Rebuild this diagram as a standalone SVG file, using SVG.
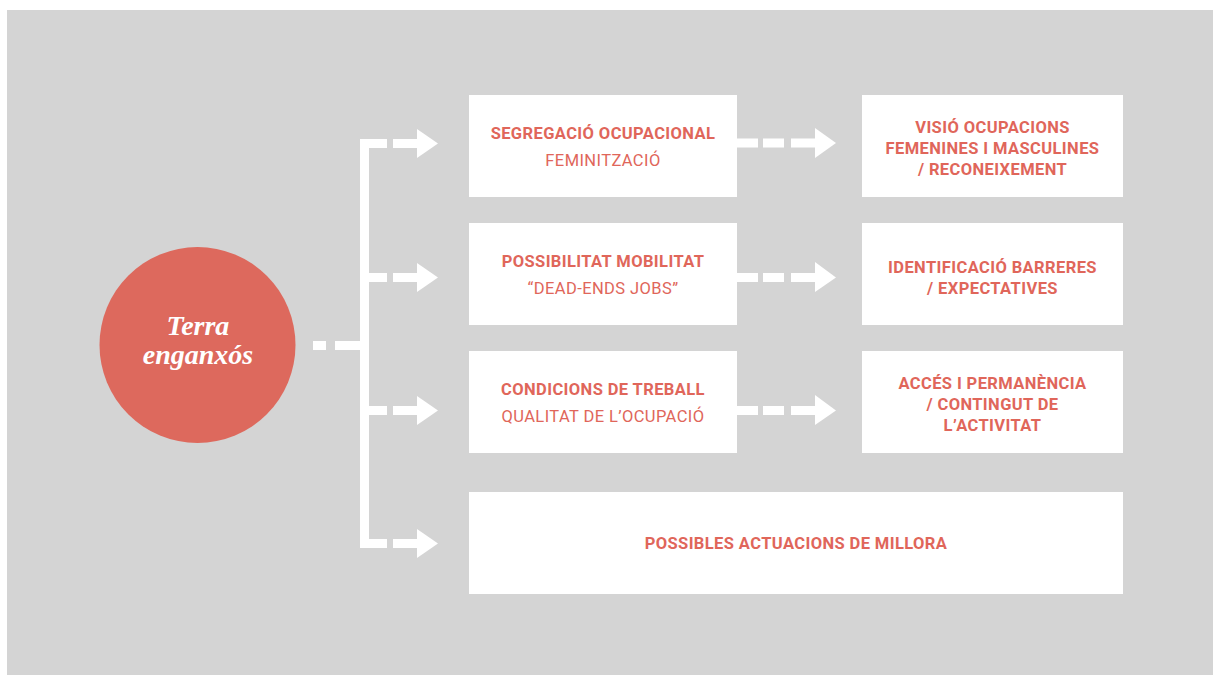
<svg xmlns="http://www.w3.org/2000/svg" width="1213" height="675" viewBox="0 0 1213 675">
<style>
.box{fill:#ffffff}
.t{font-family:Roboto,"Liberation Sans",sans-serif;font-size:16.5px;letter-spacing:0.4px;fill:#e0665a;text-anchor:middle}
.b{font-weight:700}
.r{font-weight:400}
.w{fill:#ffffff}
.title{font-family:"Liberation Serif","DejaVu Serif",serif;font-style:italic;font-weight:700;font-size:28px;fill:#ffffff;text-anchor:middle}
</style>
<rect x="0" y="0" width="1213" height="675" fill="#ffffff"/>
<rect x="7" y="10" width="1206" height="665" fill="#d4d4d4"/>
<g id="connectors" class="w">
<rect x="313" y="341" width="13" height="9"/>
<rect x="335" y="341" width="25" height="9"/>
<rect x="360" y="139" width="9" height="409"/>
<rect x="369" y="139" width="18" height="9"/>
<rect x="393" y="139" width="24" height="9"/>
<polygon points="417,129 438,143.5 417,158"/>
<rect x="369" y="273" width="18" height="9"/>
<rect x="393" y="273" width="24" height="9"/>
<polygon points="417,263 438,277.5 417,292"/>
<rect x="369" y="406" width="18" height="9"/>
<rect x="393" y="406" width="24" height="9"/>
<polygon points="417,396 438,410.5 417,425"/>
<rect x="369" y="539" width="18" height="9"/>
<rect x="393" y="539" width="24" height="9"/>
<polygon points="417,529 438,543.5 417,558"/>
<rect x="737" y="138.5" width="21" height="9"/>
<rect x="763" y="138.5" width="21" height="9"/>
<rect x="791" y="138.5" width="26" height="9"/>
<polygon points="815,128 836,143 815,158"/>
<rect x="737" y="273" width="21" height="9"/>
<rect x="763" y="273" width="21" height="9"/>
<rect x="791" y="273" width="26" height="9"/>
<polygon points="815,262 836,277.5 815,292"/>
<rect x="737" y="406" width="21" height="9"/>
<rect x="763" y="406" width="21" height="9"/>
<rect x="791" y="406" width="26" height="9"/>
<polygon points="815,395 836,410.5 815,425"/>
</g>
<g id="center">
<circle cx="197.5" cy="345" r="98" fill="#dd695d"/>
<text class="title" x="198" y="335">Terra</text>
<text class="title" x="198" y="364">enganxós</text>
</g>
<g id="n1">
<rect class="box" x="469" y="95" width="268" height="102"/>
<text class="t b" x="603" y="139">SEGREGACIÓ OCUPACIONAL</text>
<text class="t r" x="603" y="166">FEMINITZACIÓ</text>
</g>
<g id="n2">
<rect class="box" x="469" y="223" width="268" height="102"/>
<text class="t b" x="603" y="267">POSSIBILITAT MOBILITAT</text>
<text class="t r" x="603" y="294">“DEAD-ENDS JOBS”</text>
</g>
<g id="n3">
<rect class="box" x="469" y="351" width="268" height="102"/>
<text class="t b" x="603" y="395">CONDICIONS DE TREBALL</text>
<text class="t r" x="603" y="422">QUALITAT DE L’OCUPACIÓ</text>
</g>
<g id="n4">
<rect class="box" x="862" y="95" width="261" height="102"/>
<text class="t b" x="992.5" y="133">VISIÓ OCUPACIONS</text>
<text class="t b" x="992.5" y="154">FEMENINES I MASCULINES</text>
<text class="t b" x="992.5" y="175">/ RECONEIXEMENT</text>
</g>
<g id="n5">
<rect class="box" x="862" y="223" width="261" height="102"/>
<text class="t b" x="992.5" y="273">IDENTIFICACIÓ BARRERES</text>
<text class="t b" x="992.5" y="294">/ EXPECTATIVES</text>
</g>
<g id="n6">
<rect class="box" x="862" y="351" width="261" height="102"/>
<text class="t b" x="992.5" y="389">ACCÉS I PERMANÈNCIA</text>
<text class="t b" x="992.5" y="410">/ CONTINGUT DE</text>
<text class="t b" x="992.5" y="431">L’ACTIVITAT</text>
</g>
<g id="n7">
<rect class="box" x="469" y="492" width="654" height="102"/>
<text class="t b" x="796" y="549">POSSIBLES ACTUACIONS DE MILLORA</text>
</g>
</svg>
